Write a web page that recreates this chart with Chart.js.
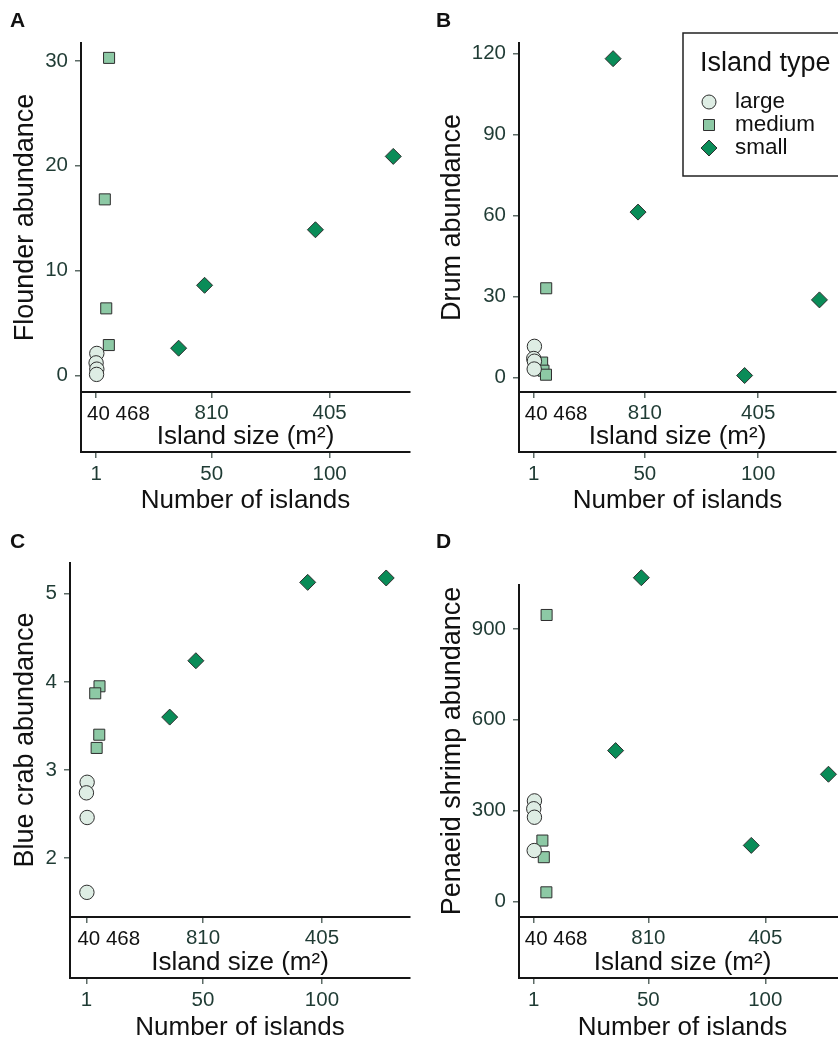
<!DOCTYPE html>
<html>
<head>
<meta charset="utf-8">
<script src="https://cdn.jsdelivr.net/npm/chart.js@4.4.1/dist/chart.umd.min.js"></script>
<style>
  html, body { margin: 0; padding: 0; background: #fff; overflow: hidden; }
  body { width: 838px; height: 1046px; position: relative; font-family: 'Liberation Sans', Arial, sans-serif; }
  .panel { position: absolute; }
  .tag { position: absolute; font-weight: bold; font-size: 21px; line-height: 1; color: #111; }
</style>
</head>
<body>
<div class="panel" style="left:0;top:0"><canvas id="chartA" width="419" height="520"></canvas></div>
<div class="panel" style="left:420px;top:0"><canvas id="chartB" width="425" height="520"></canvas></div>
<div class="panel" style="left:0;top:520px"><canvas id="chartC" width="419" height="526"></canvas></div>
<div class="panel" style="left:420px;top:520px"><canvas id="chartD" width="435" height="526"></canvas></div>
<div class="tag" style="left:10px;top:9px">A</div>
<div class="tag" style="left:436px;top:9px">B</div>
<div class="tag" style="left:10px;top:530px">C</div>
<div class="tag" style="left:436px;top:530px">D</div>

<script>
// island type categories and number of islands (x) per site
const islandTypes = ['large', 'medium', 'small'];
const largeX = [1.3, 1.0, 1.3, 1.2];
const mediumX = [6.5, 4.7, 5.3, 6.4];
const smallX = [36, 47, 94, 127];

// abundances per panel
const flounderLarge = [2.1, 1.2, 0.6, 0.1];
const flounderMedium = [30.3, 16.8, 6.4, 2.9];
const flounderSmall = [2.6, 8.6, 13.9, 20.9];

const drumLarge = [11.5, 7.0, 6.0, 3.1];
const drumMedium = [33, 5.5, 2.5, 1.0];
const drumSmall = [118, 61.2, 0.7, 28.7];

const crabLarge = [2.86, 2.74, 2.46, 1.61];
const crabMedium = [3.95, 3.87, 3.25, 3.40];
const crabSmall = [3.60, 4.24, 5.13, 5.18];

const shrimpLarge = [332, 306, 278, 168];
const shrimpMedium = [946, 201, 146, 30];
const shrimpSmall = [498, 1069, 185, 420];

// tick labels
const flounderTicks = [0, 10, 20, 30];
const drumTicks = [0, 30, 60, 90, 120];
const crabTicks = [2, 3, 4, 5];
const shrimpTicks = [0, 300, 600, 900];
const islandCountTicks = [1, 50, 100];
const islandSizeLabels = ['40 468', '810', '405'];

const FONT = "'Liberation Sans', Arial, sans-serif";
const TICK_COLOR = '#1f3b34';
const TICK_MARK = '#5c6b66';
const AXIS = '#151515';

const typeStyles = {
    large: { pointStyle: 'circle', backgroundColor: '#deede4', pointRadius: 7.2 },
    medium: { pointStyle: 'rect', backgroundColor: '#8dc9a5', pointRadius: 7.8 },
    small: { pointStyle: 'rectRot', backgroundColor: '#0a8c58', pointRadius: 8 }
};

function pts(xs, ys) {
    return xs.map((x, i) => ({ x: x, y: ys[i] }));
}

function makeDatasets(large, medium, small) {
    const sets = [pts(largeX, large), pts(mediumX, medium), pts(smallX, small)];
    return islandTypes.map((t, i) => Object.assign({
        label: t,
        data: sets[i],
        borderColor: '#2e2e2e',
        borderWidth: 1,
        pointHoverRadius: 8,
        clip: false
    }, typeStyles[t]));
}

// vertical axis line continues through the island-size band; first size label is left-set
const axisExtras = {
    id: 'axisExtras',
    afterDraw(chart) {
        const ctx = chart.ctx;
        const area = chart.chartArea;
        const xs = chart.scales.x;
        ctx.save();
        ctx.strokeStyle = AXIS;
        ctx.lineWidth = 2;
        ctx.beginPath();
        ctx.moveTo(area.left, area.bottom);
        ctx.lineTo(area.left, xs.top + 1);
        ctx.stroke();
        const s2 = chart.scales.x2;
        const px = s2.getPixelForValue(islandCountTicks[0]);
        ctx.fillStyle = '#111';
        ctx.font = '20.5px ' + FONT;
        ctx.textAlign = 'left';
        ctx.textBaseline = 'middle';
        ctx.fillText(islandSizeLabels[0], px - 9, s2.top + 22);
        ctx.restore();
    }
};

const islandLegend = {
    id: 'islandLegend',
    afterDraw(chart) {
        const ctx = chart.ctx;
        ctx.save();
        ctx.fillStyle = '#fff';
        ctx.fillRect(263, 33, chart.width, 143);
        ctx.strokeStyle = '#222';
        ctx.lineWidth = 1.5;
        ctx.strokeRect(263, 33, chart.width, 143);
        ctx.fillStyle = '#111';
        ctx.font = '27px ' + FONT;
        ctx.textBaseline = 'alphabetic';
        ctx.fillText('Island type', 280, 71);
        const rows = [102, 125, 148];
        chart.data.datasets.forEach((ds, i) => {
            const y = rows[i], x = 289;
            ctx.fillStyle = ds.backgroundColor;
            ctx.strokeStyle = ds.borderColor;
            ctx.lineWidth = 1;
            ctx.beginPath();
            if (ds.pointStyle === 'circle') {
                ctx.arc(x, y, 7, 0, Math.PI * 2);
            } else if (ds.pointStyle === 'rect') {
                ctx.rect(x - 5.5, y - 5.5, 11, 11);
            } else {
                ctx.moveTo(x, y - 8); ctx.lineTo(x + 8, y); ctx.lineTo(x, y + 8); ctx.lineTo(x - 8, y); ctx.closePath();
            }
            ctx.fill();
            ctx.stroke();
            ctx.fillStyle = '#111';
            ctx.font = '22.5px ' + FONT;
            ctx.textBaseline = 'middle';
            ctx.fillText(ds.label, 315, y);
        });
        ctx.restore();
    }
};

function renderPanel(canvasId, cfg) {
    const ctx = document.getElementById(canvasId);
    const tickGrid = { drawOnChartArea: false, drawTicks: true, tickLength: 6, color: TICK_MARK, lineWidth: 1.5 };
    const setTicks = (vals) => (scale) => { scale.ticks = vals.map(v => ({ value: v })); };
    const plugins = [axisExtras];
    if (cfg.legend) plugins.push(islandLegend);
    return new Chart(ctx, {
        type: 'scatter',
        data: { datasets: cfg.datasets },
        plugins: plugins,
        options: {
            responsive: false,
            animation: false,
            layout: { padding: cfg.padding },
            plugins: { legend: { display: false }, tooltip: { enabled: false } },
            scales: {
                y: {
                    position: 'left',
                    min: cfg.yRange[0], max: cfg.yRange[1],
                    afterBuildTicks: setTicks(cfg.yTicks),
                    afterFit: (s) => { s.width = cfg.yWidth; },
                    border: { color: AXIS, width: 2 },
                    grid: tickGrid,
                    ticks: { color: TICK_COLOR, padding: 7, font: { family: FONT, size: 20.5 } },
                    title: { display: true, text: cfg.yTitle, color: '#111', padding: { top: 4, bottom: 4 },
                        font: { family: FONT, size: 27 } }
                },
                x2: {
                    type: 'linear', position: 'bottom', weight: 0,
                    min: cfg.xRange[0], max: cfg.xRange[1],
                    afterBuildTicks: setTicks(islandCountTicks),
                    afterFit: (s) => { s.height = cfg.x2Height; },
                    border: { color: AXIS, width: 2 },
                    grid: tickGrid,
                    ticks: {
                        color: TICK_COLOR, padding: 3, font: { family: FONT, size: 20.5 }, maxRotation: 0,
                        callback: (v, i) => (i === 0 ? '' : islandSizeLabels[i])
                    },
                    title: { display: true, text: 'Island size (m²)', color: '#111', padding: { top: 0, bottom: 0 },
                        font: { family: FONT, size: 26 } }
                },
                x: {
                    type: 'linear', position: 'bottom', weight: 1,
                    min: cfg.xRange[0], max: cfg.xRange[1],
                    afterBuildTicks: setTicks(islandCountTicks),
                    afterFit: (s) => { s.height = cfg.xHeight; },
                    border: { color: AXIS, width: 2 },
                    grid: tickGrid,
                    ticks: { color: TICK_COLOR, padding: 4, font: { family: FONT, size: 20.5 }, maxRotation: 0 },
                    title: { display: true, text: 'Number of islands', color: '#111', padding: { top: 0, bottom: 2 },
                        font: { family: FONT, size: 26 } }
                }
            }
        }
    });
}

renderPanel('chartA', {
    datasets: makeDatasets(flounderLarge, flounderMedium, flounderSmall),
    yTicks: flounderTicks, yRange: [-1.58, 31.72], yTitle: 'Flounder abundance',
    xRange: [-5.4, 134.1], padding: { top: 43, left: 5, right: 4, bottom: 2 },
    yWidth: 76, x2Height: 60, xHeight: 66
});
renderPanel('chartB', {
    datasets: makeDatasets(drumLarge, drumMedium, drumSmall),
    yTicks: drumTicks, yRange: [-5.4, 123.8], yTitle: 'Drum abundance',
    xRange: [-5.5, 134.3], padding: { top: 43, left: 12, right: 3, bottom: 2 },
    yWidth: 87, x2Height: 60, xHeight: 66, legend: true
});
renderPanel('chartC', {
    datasets: makeDatasets(crabLarge, crabMedium, crabSmall),
    yTicks: crabTicks, yRange: [1.33, 5.35], yTitle: 'Blue crab abundance',
    xRange: [-5.9, 137], padding: { top: 43, left: 5, right: 4, bottom: 1 },
    yWidth: 65, x2Height: 61, xHeight: 67
});
renderPanel('chartD', {
    datasets: makeDatasets(shrimpLarge, shrimpMedium, shrimpSmall),
    yTicks: shrimpTicks, yRange: [-51.5, 1045], yTitle: 'Penaeid shrimp abundance',
    xRange: [-5.3, 134.5], padding: { top: 65, left: 12, right: 2, bottom: 1 },
    yWidth: 87, x2Height: 61, xHeight: 67
});
</script>
</body>
</html>
